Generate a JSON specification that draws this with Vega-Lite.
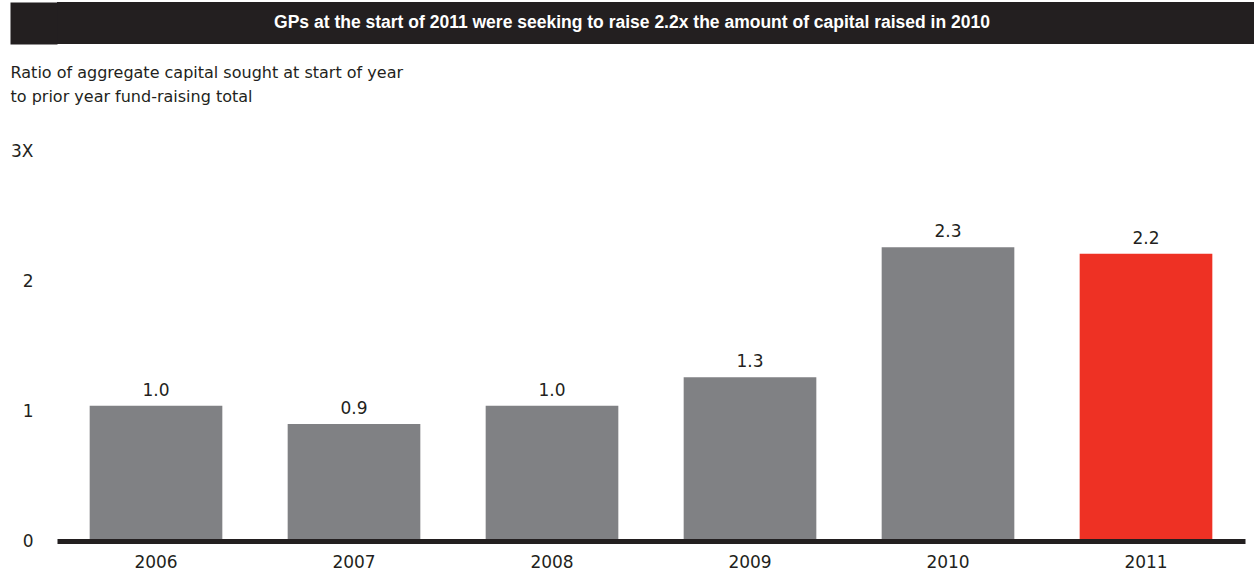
{
  "$schema": "https://vega.github.io/schema/vega-lite/v6.json",
  "padding": {"left": 10, "top": 2, "right": 0, "bottom": 0},
  "spacing": 21,
  "background": "white",
  "config": {
    "font": "DejaVu Sans",
    "view": {"stroke": null}
  },
  "vconcat": [
    {
      "width": 1197,
      "height": 42,
      "view": {"fill": "#231f20", "stroke": null},
      "data": {"values": [{"headline": "GPs at the start of 2011 were seeking to raise 2.2x the amount of capital raised in 2010"}]},
      "mark": {"type": "text", "color": "white", "fontWeight": "bold", "fontSize": 17.5, "font": "Liberation Sans", "dx": -23.5},
      "encoding": {
        "text": {"field": "headline"},
        "y": {
          "field": "headline",
          "type": "nominal",
          "axis": {
            "title": null,
            "labels": false,
            "ticks": false,
            "grid": false,
            "domain": true,
            "domainColor": "#231f20",
            "domainWidth": 47,
            "offset": 23.5
          }
        }
      }
    },
    {
      "width": 1188,
      "height": 390,
      "title": {
        "text": ["Ratio of aggregate capital sought at start of year", "to prior year fund-raising total"],
        "anchor": "start",
        "frame": "bounds",
        "fontSize": 16,
        "fontWeight": "normal",
        "lineHeight": 24,
        "offset": 37,
        "color": "#231f20",
        "font": "DejaVu Sans"
      },
      "data": {"values": [
        {"year": "2006", "ratio": 1.04},
        {"year": "2007", "ratio": 0.9},
        {"year": "2008", "ratio": 1.04},
        {"year": "2009", "ratio": 1.26},
        {"year": "2010", "ratio": 2.26},
        {"year": "2011", "ratio": 2.21}
      ]},
      "encoding": {
        "x": {
          "field": "year",
          "type": "nominal",
          "sort": null,
          "scale": {"paddingInner": 0.33, "paddingOuter": 0.165},
          "axis": {
            "title": null,
            "labelAngle": 0,
            "ticks": false,
            "domainColor": "#231f20",
            "domainWidth": 5,
            "labelFontSize": 17,
            "labelColor": "#231f20",
            "labelPadding": 13,
            "zindex": 1
          }
        },
        "y": {
          "field": "ratio",
          "type": "quantitative",
          "scale": {"domain": [0, 3], "nice": false},
          "axis": {
            "title": null,
            "domain": false,
            "ticks": false,
            "grid": false,
            "values": [0, 1, 2, 3],
            "labelExpr": "datum.value == 3 ? '3X' : datum.label",
            "labelFontSize": 17,
            "labelColor": "#231f20",
            "labelPadding": 24
          }
        }
      },
      "layer": [
        {
          "mark": {"type": "bar"},
          "encoding": {
            "color": {
              "condition": {"test": "datum.year === '2011'", "value": "#ee3124"},
              "value": "#808184"
            }
          }
        },
        {
          "mark": {"type": "text", "baseline": "bottom", "dy": -6, "fontSize": 17, "color": "#231f20"},
          "encoding": {
            "text": {"field": "ratio", "type": "quantitative", "format": ".1f"}
          }
        }
      ]
    }
  ]
}
